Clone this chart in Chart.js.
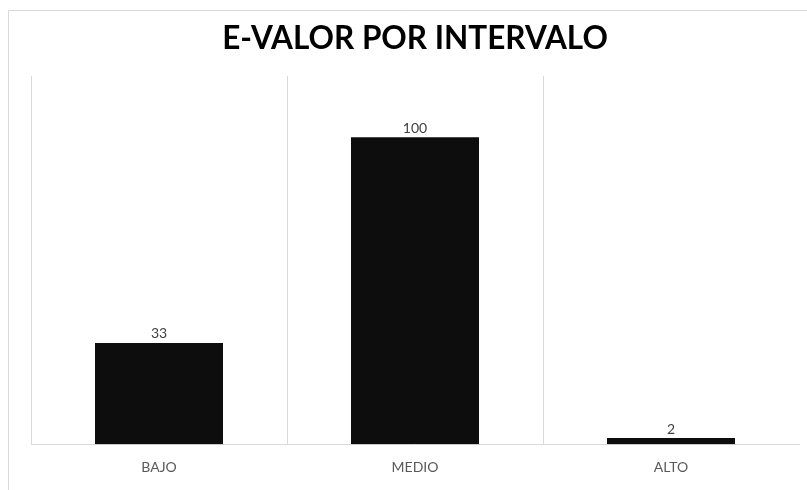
<!DOCTYPE html>
<html>
<head>
<meta charset="utf-8">
<script src="https://cdn.jsdelivr.net/npm/chart.js@4"></script>
<style>
  html, body { margin: 0; padding: 0; background: #fff; }
  #wrap { width: 807px; height: 490px; position: relative; }
</style>
</head>
<body>
<div id="wrap"><canvas id="c" width="807" height="490"></canvas></div>
<script>
const titleText = 'E-VALOR POR INTERVALO';
const categories = ['BAJO', 'MEDIO', 'ALTO'];
const values = [33, 100, 2];

const frame = {
  id: 'frame',
  beforeDraw(chart) {
    const ctx = chart.ctx;
    ctx.save();
    ctx.strokeStyle = '#d9d9d9';
    ctx.lineWidth = 1;
    ctx.beginPath();
    ctx.moveTo(8.5, chart.height);
    ctx.lineTo(8.5, 10.5);
    ctx.lineTo(chart.width, 10.5);
    ctx.stroke();
    ctx.restore();
  }
};

const valueLabels = {
  id: 'valueLabels',
  afterDatasetsDraw(chart) {
    const ctx = chart.ctx;
    const meta = chart.getDatasetMeta(0);
    ctx.save();
    ctx.font = '14px Lato, "Open Sans", sans-serif';
    ctx.fillStyle = '#404040';
    ctx.textAlign = 'center';
    ctx.textBaseline = 'bottom';
    meta.data.forEach((bar, i) => {
      ctx.fillText(String(chart.data.datasets[0].data[i]), bar.x, bar.y - 2);
    });
    ctx.restore();
  }
};

new Chart(document.getElementById('c'), {
  type: 'bar',
  data: {
    labels: categories,
    datasets: [{
      data: values,
      backgroundColor: '#0d0d0d',
      borderWidth: 0,
      barPercentage: 1,
      categoryPercentage: 0.5
    }]
  },
  options: {
    responsive: false,
    animation: false,
    devicePixelRatio: 1,
    layout: { padding: { left: 31, right: 8, top: 0, bottom: -1 } },
    plugins: {
      legend: { display: false },
      tooltip: { enabled: false },
      title: {
        display: true,
        text: titleText,
        color: '#000',
        font: { family: 'Lato, "Open Sans", sans-serif', size: 31.5, weight: 'bold', lineHeight: '36px' },
        padding: { top: 21, bottom: 19 }
      }
    },
    scales: {
      x: {
        grid: {
          display: true,
          drawTicks: false,
          color: (c) => (c.index < 3 ? '#d9d9d9' : 'rgba(0,0,0,0)'),
          lineWidth: 1
        },
        border: { display: true, color: '#d9d9d9', width: 1 },
        ticks: {
          color: '#595959',
          padding: 15,
          font: { family: 'Lato, "Open Sans", sans-serif', size: 14 }
        }
      },
      y: {
        display: false,
        min: 0,
        max: 120
      }
    }
  },
  plugins: [frame, valueLabels]
});
</script>
</body>
</html>
